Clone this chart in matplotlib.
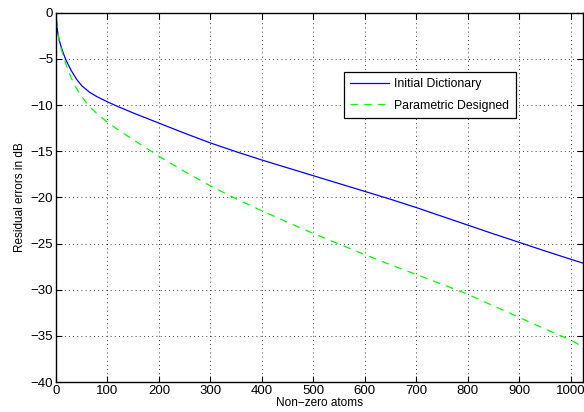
import matplotlib
matplotlib.use("Agg")
import matplotlib.pyplot as plt

x_blue = [1, 3, 6, 10, 15, 20, 30, 40, 50, 65, 80, 100, 120, 150, 200, 250, 300, 350, 400, 450, 500, 550, 600, 650, 700, 750, 800, 850, 900, 950, 1000, 1024]
y_blue = [-0.8, -2.0, -2.9, -3.7, -4.5, -5.2, -6.3, -7.2, -7.9, -8.6, -9.1, -9.65, -10.15, -10.85, -11.95, -13.05, -14.1, -15.05, -15.95, -16.8, -17.65, -18.5, -19.35, -20.2, -21.1, -22.05, -23.0, -23.95, -24.87, -25.8, -26.7, -27.12]

x_green = [1, 3, 6, 10, 15, 20, 30, 40, 50, 65, 80, 100, 120, 150, 200, 250, 300, 350, 400, 450, 500, 550, 600, 650, 700, 750, 800, 850, 900, 950, 1000, 1024]
y_green = [-0.8, -1.9, -3.0, -3.9, -4.8, -5.7, -7.1, -8.2, -9.1, -10.15, -10.95, -11.85, -12.65, -13.75, -15.55, -17.2, -18.75, -20.15, -21.45, -22.7, -23.9, -25.05, -26.2, -27.3, -28.35, -29.4, -30.5, -31.75, -33.0, -34.25, -35.45, -36.2]

plt.rcParams['font.family'] = ['Liberation Sans', 'DejaVu Sans']

fig = plt.figure(figsize=(5.84, 4.12), dpi=100)
ax = fig.add_axes([56/584, 1 - 382/412, 527/584, 369.2/412])

ax.plot(x_blue, y_blue, color='#0000ff', lw=0.9, label='Initial Dictionary')
ax.plot(x_green, y_green, color='#00ff00', lw=0.9, ls=(0, (6, 5)), label='Parametric Designed')

ax.set_xlim(0, 1024)
ax.set_ylim(-40, 0)
ax.set_xticks(range(0, 1001, 100))
ax.set_yticks(range(-40, 1, 5))
ax.grid(True, color='black', ls=(0, (1, 4)), lw=0.6)
ax.tick_params(direction='in', top=True, right=True, labelsize=9.5, length=4, width=0.8, pad=2)
for s in ax.spines.values():
    s.set_linewidth(1.0)
ax.set_xlabel('Non\u2212zero atoms', fontsize=8.5, labelpad=0)
ax.set_ylabel('Residual errors in dB', fontsize=8.5, labelpad=3)

leg = ax.legend(loc='upper left', bbox_to_anchor=(0.546, 0.718, 0.327, 0.122), mode='expand',
                fontsize=8.8, fancybox=False, framealpha=1, edgecolor='black',
                borderaxespad=0, handlelength=3.2, handletextpad=0.4,
                labelspacing=0.8, borderpad=0.5)
leg.get_frame().set_linewidth(0.9)

fig.savefig('out.png', dpi=100)
